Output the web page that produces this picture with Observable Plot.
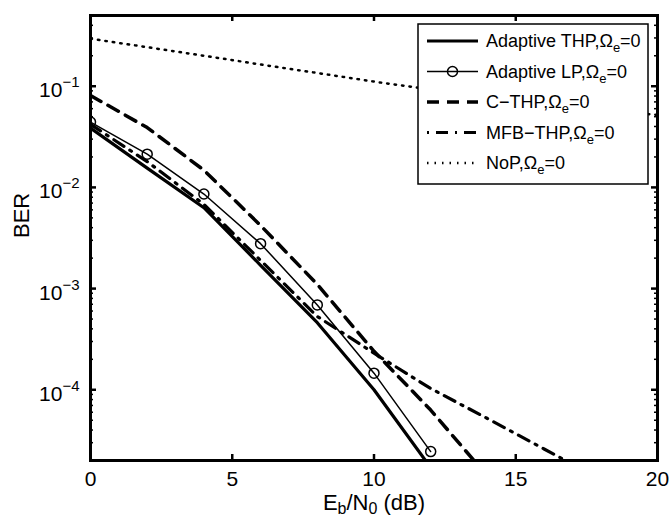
<!DOCTYPE html>
<html><head><meta charset="utf-8">
<script src="https://cdn.jsdelivr.net/npm/d3@7"></script>
<script src="https://cdn.jsdelivr.net/npm/@observablehq/plot@0.6"></script>
<style>
body{margin:0;background:#fff;}
#wrap{position:relative;width:670px;height:518px;font-family:"Liberation Sans",Arial,Helvetica,sans-serif;}
#legend{position:absolute;left:417px;top:23px;}
</style></head><body><div id="wrap"></div>
<script>
// ---- data (Eb/N0 in dB, BER) ----
const snr = [0, 2, 4, 6, 8, 10, 12, 14, 16, 18, 20];
const adaptiveTHP = [0.0385, 0.0155, 0.0063, 0.0017, 4.6e-4, 1.0e-4, 1.7e-5];
const adaptiveLP  = [0.0442, 0.0213, 0.0086, 0.00278, 6.9e-4, 1.46e-4, 2.45e-5];
const cTHP        = [0.081, 0.039, 0.0148, 0.0042, 1.1e-3, 2.4e-4, 6.3e-5, 1.4e-5];
const mfbTHP      = [0.042, 0.018, 0.0068, 0.0019, 5.3e-4, 2.3e-4, 1.03e-4, 5.2e-5, 2.6e-5, 1.3e-5];
const noP         = [0.295, 0.243, 0.2, 0.164, 0.135, 0.111, 0.093, 0.079, 0.068, 0.059, 0.052];
const xTicks = [0, 5, 10, 15, 20];
const xInnerTicks = [5, 10, 15];
const yTicks = [1e-4, 1e-3, 1e-2, 1e-1];
const yTickLabels = ["10^-4", "10^-3", "10^-2", "10^-1"];
const legendNames = ["Adaptive THP", "Adaptive LP", "C\u2212THP", "MFB\u2212THP", "NoP"];
const xLabel = "E_b/N_0 (dB)";
const yLabel = "BER";

const W = 670, H = 518, mL = 90, mR = 13, mT = 15, mB = 58;
const plotW = W - mL - mR, plotH = H - mT - mB;
const yDomain = [2e-5, 0.5];
const yMinor = d3.scaleLog().domain(yDomain).ticks().filter(v => !yTicks.some(t => Math.abs(t - v) < t * 1e-6));

const row = ys => ys.map((y, i) => ({x: snr[i], y}));
const font = '"Liberation Sans", Arial, Helvetica, sans-serif';

const chart = Plot.plot({
  width: W, height: H,
  marginLeft: mL, marginRight: mR, marginTop: mT, marginBottom: mB,
  x: {domain: [0, 20], axis: null},
  y: {type: "log", domain: yDomain, axis: null},
  style: {fontFamily: font, color: "#000", background: "#fff", overflow: "visible"},
  marks: [
    // series
    Plot.line(row(noP), {x: "x", y: "y", stroke: "#000", strokeWidth: 2.5, strokeDasharray: "1.5,6", clip: true}),
    Plot.line(row(mfbTHP), {x: "x", y: "y", stroke: "#000", strokeWidth: 3.2, strokeDasharray: "12,7,2,7", clip: true}),
    Plot.line(row(cTHP), {x: "x", y: "y", stroke: "#000", strokeWidth: 3.5, strokeDasharray: "12,8", clip: true}),
    Plot.line(row(adaptiveLP), {x: "x", y: "y", stroke: "#000", strokeWidth: 1.5, clip: true}),
    Plot.dot(row(adaptiveLP), {x: "x", y: "y", r: 5, stroke: "#000", strokeWidth: 1.5, fill: "none", clip: true}),
    Plot.line(row(adaptiveTHP), {x: "x", y: "y", stroke: "#000", strokeWidth: 3.2, clip: true}),
    // inward ticks
    Plot.ruleX(xInnerTicks, {x: d => d, insetTop: plotH - 6, stroke: "#000", strokeWidth: 2.5}),
    Plot.ruleX(xInnerTicks, {x: d => d, insetBottom: plotH - 6, stroke: "#000", strokeWidth: 2.5}),
    Plot.ruleY(yTicks, {y: d => d, insetRight: plotW - 6, stroke: "#000", strokeWidth: 2.5}),
    Plot.ruleY(yTicks, {y: d => d, insetLeft: plotW - 6, stroke: "#000", strokeWidth: 2.5}),
    Plot.ruleY(yMinor, {y: d => d, insetRight: plotW - 3, stroke: "#000", strokeWidth: 1.5}),
    Plot.ruleY(yMinor, {y: d => d, insetLeft: plotW - 3, stroke: "#000", strokeWidth: 1.5}),
    Plot.frame({stroke: "#000", strokeWidth: 3}),
    // tick labels
    Plot.text(xTicks, {x: d => d, frameAnchor: "bottom", lineAnchor: "top", dy: 11, text: d => String(d), fontSize: 21, fill: "#000"}),
    Plot.text(yTicks, {y: d => d, frameAnchor: "left", textAnchor: "end", lineAnchor: "bottom", dx: -11, dy: 11, text: (d, i) => yTickLabels[i], fontSize: 21, fill: "#000"}),
    // axis labels
    Plot.text([xLabel], {frameAnchor: "bottom", lineAnchor: "bottom", dy: 49, fontSize: 22, fill: "#000"}),
    Plot.text([yLabel], {frameAnchor: "left", rotate: -90, lineAnchor: "bottom", dx: -62, fontSize: 22, fill: "#000"})
  ]
});

// rich text (superscripts / subscripts) as real tspans
function setParts(el, parts) {
  while (el.firstChild) el.removeChild(el.firstChild);
  let shift = 0;
  for (const p of parts) {
    const t = document.createElementNS("http://www.w3.org/2000/svg", "tspan");
    const target = p.sup ? -p.sup : (p.sub ? p.sub : 0);
    if (target - shift !== 0) t.setAttribute("dy", target - shift);
    shift = target;
    if (p.size) t.setAttribute("font-size", p.size);
    t.textContent = p.t;
    el.appendChild(t);
  }
}
chart.querySelectorAll("text").forEach(el => {
  const s = el.textContent;
  const m = s.match(/^10\^(-?\d+)$/);
  if (m) {
    setParts(el, [{t: "10"}, {t: m[1].replace("-", "\u2212"), sup: 10, size: 15}]);
  } else if (s === xLabel) {
    setParts(el, [{t: "E"}, {t: "b", sub: 4, size: 16}, {t: "/N"}, {t: "0", sub: 4, size: 16}, {t: " (dB)"}]);
  }
});

const wrap = document.getElementById("wrap");
wrap.appendChild(chart);

// legend
const lw = 230, lh = 160;
const leg = d3.select(wrap).append("svg").attr("id", "legend").attr("width", lw + 2).attr("height", lh + 2)
  .style("font-family", font);
leg.append("rect").attr("x", 1).attr("y", 1).attr("width", lw).attr("height", lh)
  .attr("fill", "#fff").attr("stroke", "#000").attr("stroke-width", 1.5);
const styles = [
  {w: 3.2, dash: null},
  {w: 1.5, dash: null, marker: true},
  {w: 3.5, dash: "12,8"},
  {w: 3.2, dash: "12,7,2,7", off: 19},
  {w: 2.5, dash: "1.5,6"}
];
legendNames.forEach((name, i) => {
  const y = 18 + i * 30.5;
  const st = styles[i];
  const ln = leg.append("line").attr("x1", 10).attr("x2", 61).attr("y1", y).attr("y2", y)
    .attr("stroke", "#000").attr("stroke-width", st.w);
  if (st.dash) ln.attr("stroke-dasharray", st.dash);
  if (st.off) ln.attr("stroke-dashoffset", st.off);
  if (st.marker) leg.append("circle").attr("cx", 35.5).attr("cy", y).attr("r", 5)
    .attr("fill", "none").attr("stroke", "#000").attr("stroke-width", 1.5);
  const t = leg.append("text").attr("x", 69).attr("y", y + 6).attr("font-size", 18).attr("fill", "#000");
  t.append("tspan").text(name + ",\u03A9");
  t.append("tspan").attr("dy", 5).attr("font-size", 13).text("e");
  t.append("tspan").attr("dy", -5).text("=0");
});
</script>
</body></html>
